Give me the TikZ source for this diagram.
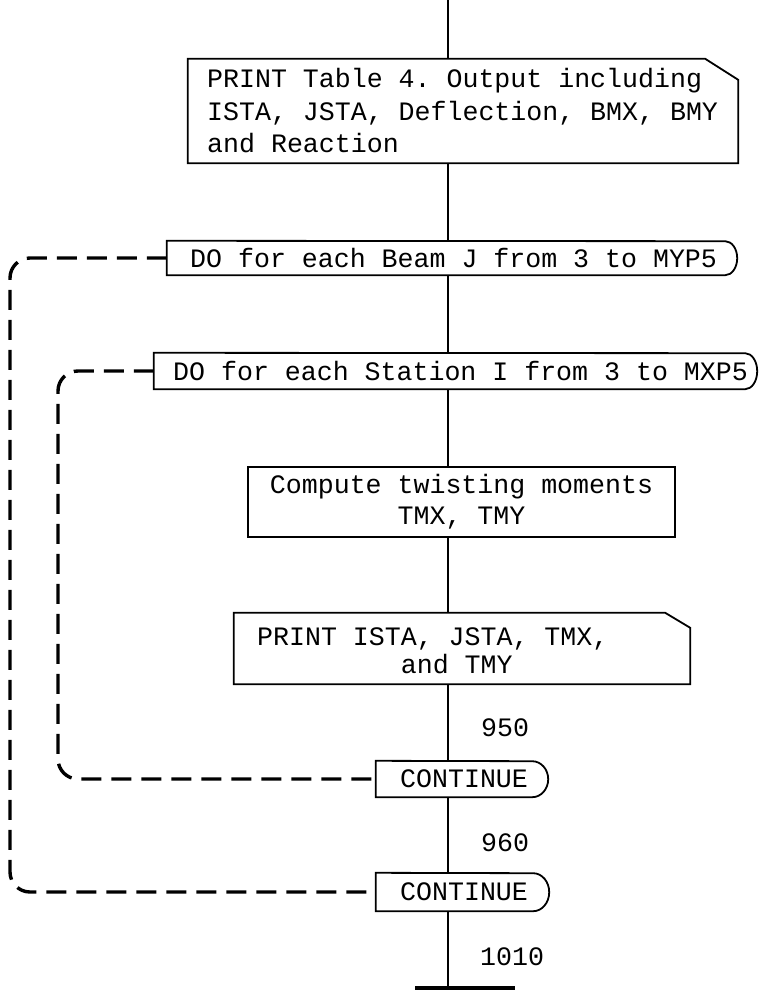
\documentclass[tikz,border=0pt]{standalone}
\usepackage{fontspec}
\setmonofont{Liberation Mono}
\usetikzlibrary{calc}
\begin{document}
\begin{tikzpicture}[x=1pt,y=-1pt,
  tt/.style={font=\ttfamily\fontsize{26.6}{32.5}\selectfont},
  frame/.style={draw=none, inner sep=0pt},
  txt/.style={tt, inner sep=0pt, anchor=west},
  rectbox/.style={tt, draw, line width=1.8pt, inner sep=0pt, align=center},
  outl/.style={line width=1.8pt, line join=miter},
  flowline/.style={line width=1.4pt},
  looppath/.style={line width=3.4pt, dash pattern=on 20pt off 10pt, rounded corners=20pt},
]
\useasboundingbox (0,0) rectangle (765,992);
\fill[white] (0,0) rectangle (765,992);

% ---- boxes ----
\node[frame, minimum width=550pt, minimum height=104pt] (b1) at (463,111) {};
\node[txt, align=left] (b1t) at (207,111)
  {PRINT Table 4. Output including\\ISTA, JSTA, Deflection, BMX, BMY\\and Reaction};
\draw[outl] (b1.north west) -- ([xshift=-33pt]b1.north east)
  -- ([yshift=-21pt]b1.north east) -- (b1.south east) -- (b1.south west) -- cycle;

\node[frame, minimum width=570pt, minimum height=34pt] (d1) at (452,258) {};
\node[txt] (d1t) at (190,258) {DO for each Beam J from 3 to MYP5};
\draw[outl] ([xshift=-12pt]d1.south east)
  arc[start angle=-90, end angle=90, x radius=12pt, y radius=17pt]
  -- (d1.north west) -- (d1.south west) -- cycle;

\node[frame, minimum width=603pt, minimum height=36pt] (d2) at (455.5,371) {};
\node[txt] (d2t) at (173,371) {DO for each Station I from 3 to MXP5};
\draw[outl] ([xshift=-12pt]d2.south east)
  arc[start angle=-90, end angle=90, x radius=12pt, y radius=18pt]
  -- (d2.north west) -- (d2.south west) -- cycle;

\node[rectbox, minimum width=427pt, minimum height=70pt,
  font=\ttfamily\fontsize{26.6}{31}\selectfont] (c) at (461.5,502)
  {Compute twisting moments\\TMX, TMY};

\node[frame, minimum width=456pt, minimum height=71pt] (p2) at (462,648.5) {};
\node[txt, align=left, font=\ttfamily\fontsize{26.6}{28}\selectfont] (p2t) at (257,651)
  {PRINT ISTA, JSTA, TMX,\\\phantom{PRINT IST}and TMY};
\draw[outl] (p2.north west) -- ([xshift=-25pt]p2.north east)
  -- ([yshift=-15pt]p2.north east) -- (p2.south east) -- (p2.south west) -- cycle;

\node[frame, minimum width=172pt, minimum height=36pt] (k1) at (462,779) {};
\node[txt] (k1t) at (400,779) {CONTINUE};
\draw[outl] ([xshift=-16pt]k1.south east)
  arc[start angle=-90, end angle=90, x radius=16pt, y radius=18pt]
  -- (k1.north west) -- (k1.south west) -- cycle;

\node[frame, minimum width=173pt, minimum height=38pt] (k2) at (462.5,892) {};
\node[txt] (k2t) at (400,892) {CONTINUE};
\draw[outl] ([xshift=-16pt]k2.south east)
  arc[start angle=-90, end angle=90, x radius=16pt, y radius=19pt]
  -- (k2.north west) -- (k2.south west) -- cycle;

% ---- statement labels ----
\node[txt] (l950) at (481,728) {950};
\node[txt] (l960) at (481,843) {960};
\node[txt] (l1010) at (480,957) {1010};

% ---- main flow line ----
\coordinate (fl) at (448,0);
\coordinate (fb) at (448,988);
\draw[flowline] (fl) -- (fl |- b1.north);
\draw[flowline] (fl |- b1.south) -- (fl |- d1.north);
\draw[flowline] (fl |- d1.south) -- (fl |- d2.north);
\draw[flowline] (fl |- d2.south) -- (fl |- c.north);
\draw[flowline] (fl |- c.south) -- (fl |- p2.north);
\draw[flowline] (fl |- p2.south) -- (fl |- k1.north);
\draw[flowline] (fl |- k1.south) -- (fl |- k2.north);
\draw[flowline] (fl |- k2.south) -- (fb);
\coordinate (bl) at (415,988);
\coordinate (br) at (515,988);
\draw[line width=3.5pt] (bl) -- (br);

% ---- loop ranges ----
\coordinate (ox) at (10,0);
\coordinate (ix) at (58,0);
\draw[looppath] (d1.west) -- (d1.west -| ox) -- (k2.west -| ox) -- (k2.west);
\draw[looppath] (d2.west) -- (d2.west -| ix) -- (k1.west -| ix) -- (k1.west);
\end{tikzpicture}
\end{document}
